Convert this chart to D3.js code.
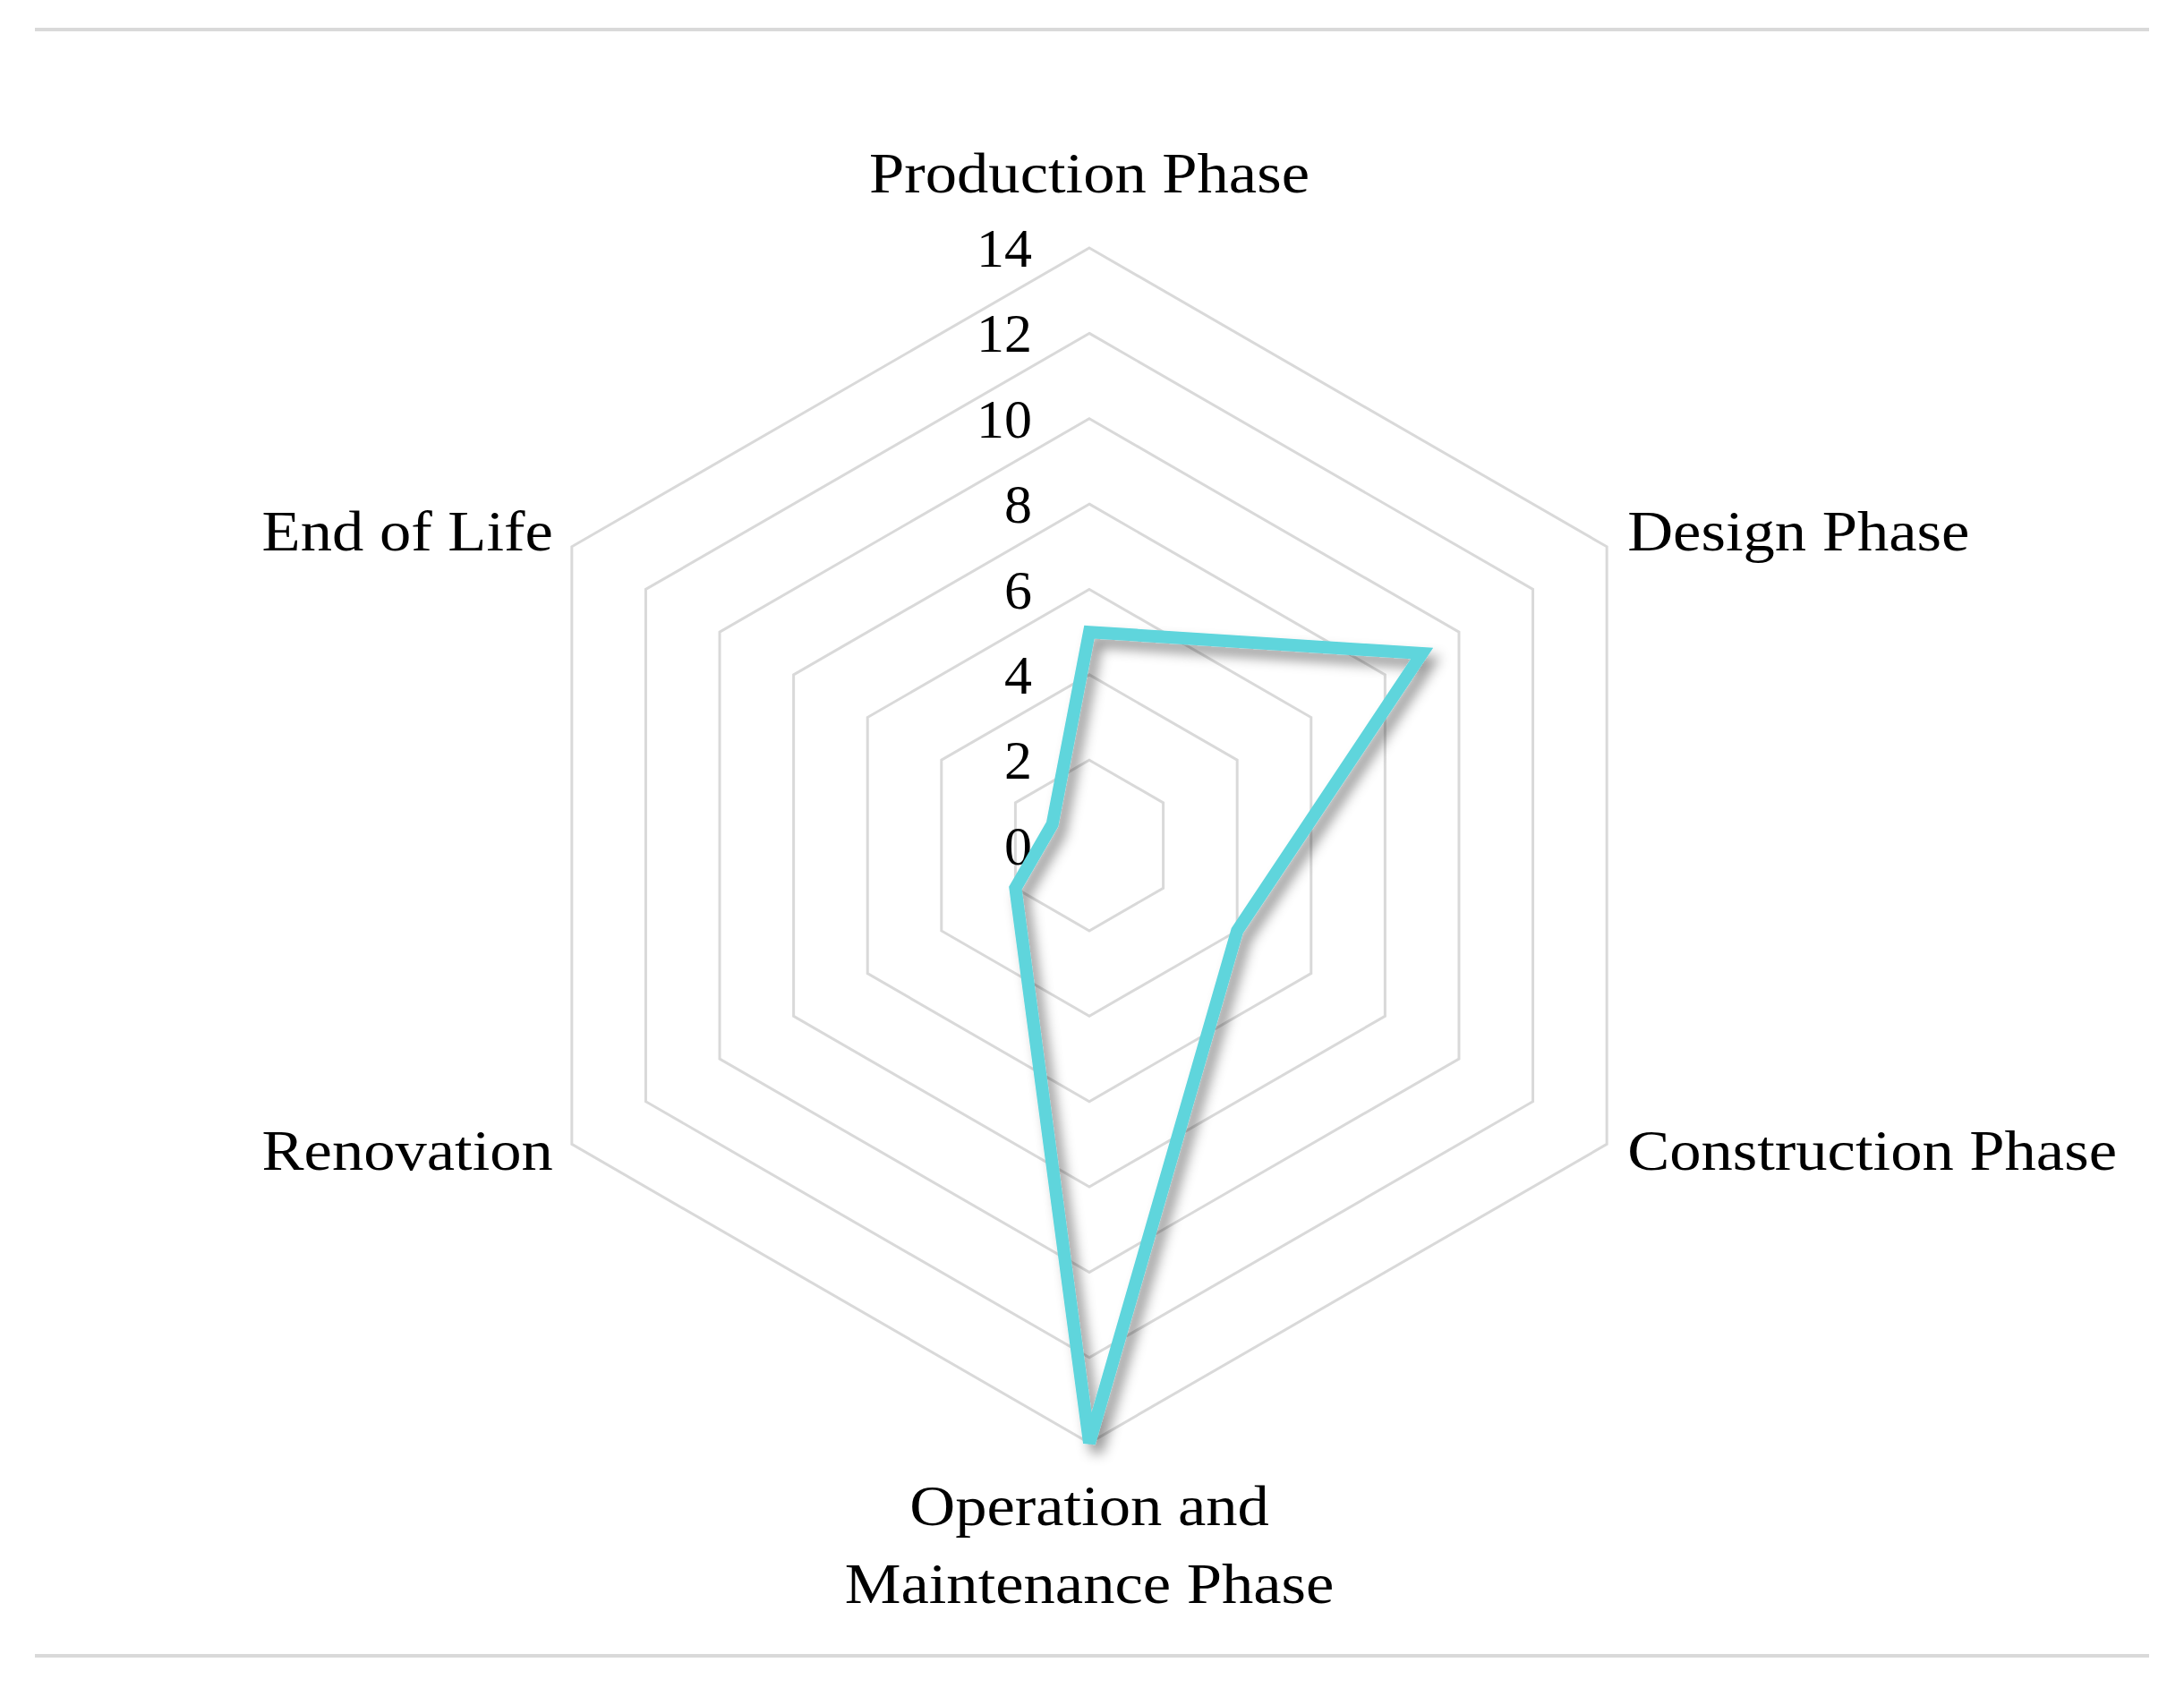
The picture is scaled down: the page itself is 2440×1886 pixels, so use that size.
<!DOCTYPE html>
<html>
<head>
<meta charset="utf-8">
<script src="https://cdn.jsdelivr.net/npm/d3@7"></script>
<style>
  body { margin: 0; background: #fff; }
  svg { display: block; }
  text { font-family: "Liberation Serif", "Times New Roman", serif; fill: #000; }
</style>
</head>
<body>
<svg id="chart" width="2440" height="1886"></svg>
<script>
// phases around the radar, clockwise from the top
var categories = ["Production Phase", "Design Phase", "Construction Phase",
                  "Operation and Maintenance Phase", "Renovation", "End of Life"];
// label lines (the bottom one wraps onto two lines)
var labelLines = [["Production Phase"], ["Design Phase"], ["Construction Phase"],
                  ["Operation and", "Maintenance Phase"], ["Renovation"], ["End of Life"]];
var values = [5, 9, 4, 14, 2, 1];
var ticks = [0, 2, 4, 6, 8, 10, 12, 14];

var cx = 1217, cy = 944.6, R = 667.6;
var lineColor = "#5ed5dc";
var gridColor = "#d9d9d9";

var svg = d3.select("#chart");

// separator rules top and bottom
svg.append("line").attr("x1", 39).attr("x2", 2401).attr("y1", 33).attr("y2", 33)
  .attr("stroke", gridColor).attr("stroke-width", 4);
svg.append("line").attr("x1", 39).attr("x2", 2401).attr("y1", 1850).attr("y2", 1850)
  .attr("stroke", gridColor).attr("stroke-width", 4);

var defs = svg.append("defs");
var f = defs.append("filter").attr("id", "shadow")
  .attr("x", "-20%").attr("y", "-20%").attr("width", "140%").attr("height", "140%");
f.append("feDropShadow").attr("dx", 8).attr("dy", 10).attr("stdDeviation", 7)
  .attr("flood-color", "#000").attr("flood-opacity", 0.4);

var r = d3.scaleLinear().domain([0, 14]).range([0, R]);
var angle = d3.scaleLinear().domain([0, categories.length]).range([0, 2 * Math.PI]);

var g = svg.append("g").attr("transform", "translate(" + cx + "," + cy + ")");

// hexagon rings
var ring = d3.lineRadial()
  .angle(function(d, i) { return angle(i); })
  .radius(function(d) { return r(d); })
  .curve(d3.curveLinearClosed);

g.selectAll(".ring").data(ticks.filter(function(t) { return t > 0; }))
  .enter().append("path")
  .attr("class", "ring")
  .attr("d", function(t) { return ring(categories.map(function() { return t; })); })
  .attr("fill", "none")
  .attr("stroke", gridColor)
  .attr("stroke-width", 3);

// tick labels on the top axis
g.selectAll(".tick").data(ticks).enter().append("text")
  .attr("class", "tick")
  .attr("x", -64)
  .attr("y", function(t) { return -r(t); })
  .attr("dy", "0.34em")
  .attr("text-anchor", "end")
  .style("font-size", "62px")
  .text(function(t) { return t; });

// data series
g.append("path")
  .datum(values)
  .attr("d", ring)
  .attr("fill", "none")
  .attr("stroke", lineColor)
  .attr("stroke-width", 14)
  .attr("stroke-linejoin", "miter")
  .attr("filter", "url(#shadow)");

// category labels
function pt(i, rad) {
  var a = angle(i);
  return [Math.sin(a) * rad, -Math.cos(a) * rad];
}
var labels = g.selectAll(".cat").data(labelLines).enter().append("text")
  .attr("class", "cat")
  .style("font-size", "63px")
  .attr("text-anchor", function(d, i) {
    var x = pt(i, R)[0];
    return Math.abs(x) < 1 ? "middle" : (x > 0 ? "start" : "end");
  })
  .attr("transform", function(d, i) {
    var p = pt(i, R);
    var x = p[0], y = p[1];
    if (Math.abs(x) < 1) {
      y = y < 0 ? y - 62 : y + 92;
    } else {
      x = x > 0 ? x + 23 : x - 21;
      y = y < 0 ? y + 4 : y + 29;
    }
    return "translate(" + x + "," + y + ")";
  });

labels.selectAll("tspan").data(function(d) { return d; }).enter().append("tspan")
  .attr("x", 0)
  .attr("dy", function(d, j) { return j === 0 ? 0 : 87; })
  .text(function(d) { return d; });

// Palatino-like width: stretch the Times glyphs a bit
labels.selectAll("tspan").each(function() {
  var w = this.getComputedTextLength();
  d3.select(this).attr("textLength", w * 1.12).attr("lengthAdjust", "spacingAndGlyphs");
});
</script>
</body>
</html>
